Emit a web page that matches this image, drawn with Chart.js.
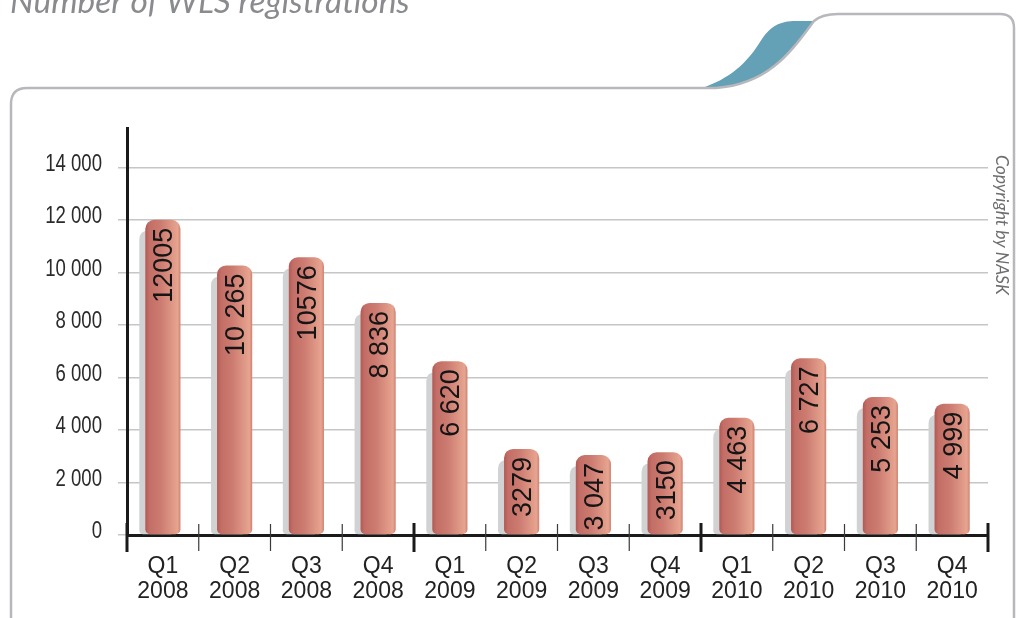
<!DOCTYPE html>
<html lang="en">
<head>
    <meta charset="UTF-8">
    <title>Number of WLS registrations</title>
    <style>
        html, body {
            margin: 0;
            padding: 0;
            background: #fff;
        }
        #wrap {
            position: relative;
            width: 1016px;
            height: 618px;
        }
    </style>
</head>
<body>
    <div id="wrap">
        <canvas id="wlsChart" width="1016" height="618"></canvas>
    </div>

    <script src="https://cdn.jsdelivr.net/npm/chart.js"></script>
    <script>
        // data
        const quarters = ['Q1', 'Q2', 'Q3', 'Q4', 'Q1', 'Q2', 'Q3', 'Q4', 'Q1', 'Q2', 'Q3', 'Q4'];
        const years = ['2008', '2008', '2008', '2008', '2009', '2009', '2009', '2009', '2010', '2010', '2010', '2010'];
        const registrations = [12005, 10265, 10576, 8836, 6620, 3279, 3047, 3150, 4463, 6727, 5253, 4999];
        const valueLabels = ['12005', '10 265', '10576', '8 836', '6 620', '3279', '3 047', '3150', '4 463', '6 727', '5 253', '4 999'];
        const yTickValues = [0, 2000, 4000, 6000, 8000, 10000, 12000, 14000];
        const yTickLabels = ['0', '2 000', '4 000', '6 000', '8 000', '10 000', '12 000', '14 000'];

        const sans = "'Liberation Sans', Arial, sans-serif";
        const barPct = 0.49;

        function roundTop(ctx, x, y, w, h, r, rb) {
            ctx.beginPath();
            ctx.moveTo(x, y + r);
            ctx.quadraticCurveTo(x, y, x + r, y);
            ctx.lineTo(x + w - r, y);
            ctx.quadraticCurveTo(x + w, y, x + w, y + r);
            ctx.lineTo(x + w, y + h - rb);
            ctx.quadraticCurveTo(x + w, y + h, x + w - rb, y + h);
            ctx.lineTo(x + rb, y + h);
            ctx.quadraticCurveTo(x, y + h, x, y + h - rb);
            ctx.closePath();
        }

        // frame, blue tab, title and copyright
        const decor = {
            id: 'decor',
            beforeDraw(chart) {
                const ctx = chart.ctx;
                ctx.save();

                // blue tab
                ctx.fillStyle = '#64a0b6';
                ctx.beginPath();
                ctx.moveTo(705, 87);
                ctx.bezierCurveTo(735, 76, 750, 58, 760, 42);
                ctx.bezierCurveTo(770, 26, 780, 21, 796, 21);
                ctx.lineTo(814, 21);
                ctx.bezierCurveTo(792, 50, 772, 80, 722, 87);
                ctx.closePath();
                ctx.fill();

                // frame outline
                ctx.strokeStyle = '#b8b8bc';
                ctx.lineWidth = 2.5;
                ctx.beginPath();
                ctx.moveTo(11, 640);
                ctx.lineTo(11, 104);
                ctx.quadraticCurveTo(11, 88, 27, 88);
                ctx.lineTo(716, 88);
                ctx.bezierCurveTo(770, 84, 792, 50, 814, 21);
                ctx.quadraticCurveTo(822, 14, 838, 14);
                ctx.lineTo(1000, 14);
                ctx.quadraticCurveTo(1014, 14, 1014, 28);
                ctx.lineTo(1014, 640);
                ctx.stroke();

                // title, cut at the top edge
                ctx.fillStyle = '#8a8b8f';
                let size = 30;
                ctx.font = 'italic ' + size + 'px Lato, "Open Sans", sans-serif';
                size = size * 400 / ctx.measureText('Number of WLS registrations').width;
                ctx.font = 'italic ' + size + 'px Lato, "Open Sans", sans-serif';
                ctx.textBaseline = 'alphabetic';
                ctx.fillText('Number of WLS registrations', 10, 13);

                // copyright, vertical
                ctx.translate(996, 155);
                ctx.rotate(Math.PI / 2);
                ctx.fillStyle = '#6d6e71';
                let cs = 16;
                ctx.font = 'italic ' + cs + 'px Lato, "Open Sans", sans-serif';
                cs = cs * 140 / ctx.measureText('Copyright by NASK').width;
                ctx.font = 'italic ' + cs + 'px Lato, "Open Sans", sans-serif';
                ctx.fillText('Copyright by NASK', 0, 0);
                ctx.restore();
            },
            beforeDatasetsDraw(chart) {
                // grey shadow left of each bar
                const ctx = chart.ctx;
                ctx.save();
                ctx.fillStyle = '#d1d2d4';
                chart.getDatasetMeta(0).data.forEach(el => {
                    const p = el.getProps(['x', 'y', 'base', 'width'], true);
                    roundTop(ctx, p.x - p.width / 2 - 6, p.y + 11, p.width, p.base - p.y - 11, 9, 4);
                    ctx.fill();
                });
                ctx.restore();
            },
            afterDatasetsDraw(chart) {
                // vertical value labels inside bars
                const ctx = chart.ctx;
                ctx.save();
                ctx.fillStyle = '#151515';
                ctx.font = '27px ' + sans;
                ctx.textAlign = 'right';
                ctx.textBaseline = 'alphabetic';
                chart.getDatasetMeta(0).data.forEach((el, i) => {
                    const p = el.getProps(['x', 'y'], true);
                    ctx.save();
                    ctx.translate(p.x + 9.5, p.y + 8);
                    ctx.rotate(-Math.PI / 2);
                    ctx.fillText(valueLabels[i], 0, 0);
                    ctx.restore();
                });
                ctx.restore();
            },
            afterDraw(chart) {
                const ctx = chart.ctx;
                const xs = chart.scales.x;
                const ys = chart.scales.y;
                const axisY = chart.chartArea.bottom;
                const n = quarters.length;
                ctx.save();

                // y tick labels in a condensed face
                ctx.fillStyle = '#2a2a2a';
                ctx.font = '23.5px ' + sans;
                ctx.textAlign = 'right';
                ctx.textBaseline = 'middle';
                yTickValues.forEach((v, i) => {
                    ctx.save();
                    ctx.translate(ys.left + ys.width - 25, ys.getPixelForValue(v) - 3);
                    ctx.scale(0.79, 1);
                    ctx.fillText(yTickLabels[i], 0, 0);
                    ctx.restore();
                });

                // category tick marks across the x axis, heavy at year breaks
                for (let i = 0; i <= n; i++) {
                    let x;
                    if (i === 0) x = xs.left;
                    else if (i === n) x = xs.right;
                    else x = (xs.getPixelForValue(i - 1) + xs.getPixelForValue(i)) / 2;
                    const major = i % 4 === 0;
                    ctx.strokeStyle = major ? '#1a1a1a' : '#3a3a3a';
                    ctx.lineWidth = major ? 3 : 1.2;
                    ctx.beginPath();
                    ctx.moveTo(x, axisY - (major ? 12 : 11));
                    ctx.lineTo(x, axisY + (major ? 17 : 16));
                    ctx.stroke();
                }
                ctx.restore();
            }
        };

        const ctx = document.getElementById('wlsChart').getContext('2d');

        new Chart(ctx, {
            type: 'bar',
            data: {
                labels: quarters,
                datasets: [{
                    data: registrations,
                    backgroundColor: function(c) {
                        const chart = c.chart;
                        const xs = chart.scales.x;
                        if (!xs || !chart.chartArea || c.dataIndex === undefined) return '#cc7b72';
                        const cx = xs.getPixelForValue(c.dataIndex);
                        const half = xs.width / quarters.length * barPct / 2;
                        const g = chart.ctx.createLinearGradient(cx - half, 0, cx + half, 0);
                        g.addColorStop(0, '#b15a53');
                        g.addColorStop(0.12, '#c36e66');
                        g.addColorStop(0.45, '#cd7c72');
                        g.addColorStop(0.8, '#e09a87');
                        g.addColorStop(0.92, '#e6a491');
                        g.addColorStop(1, '#cf8071');
                        return g;
                    },
                    borderWidth: 0,
                    borderSkipped: false,
                    borderRadius: { topLeft: 9, topRight: 9, bottomLeft: 5, bottomRight: 5 },
                    barPercentage: barPct,
                    categoryPercentage: 1
                }]
            },
            options: {
                responsive: false,
                animation: false,
                layout: {
                    padding: { top: 128, right: 28, left: 0, bottom: 0 }
                },
                plugins: {
                    legend: { display: false },
                    tooltip: { enabled: false }
                },
                scales: {
                    x: {
                        afterFit(scale) { scale.height = 83; },
                        grid: { display: false },
                        border: { display: true, color: '#1a1a1a', width: 3 },
                        ticks: {
                            autoSkip: false,
                            maxRotation: 0,
                            padding: 11,
                            color: '#222',
                            font: { family: sans, size: 23, lineHeight: 25 / 23 },
                            callback: (v, i) => [quarters[i], years[i]]
                        }
                    },
                    y: {
                        min: 0,
                        max: 15500,
                        afterFit(scale) { scale.width = 127; },
                        afterBuildTicks(scale) {
                            scale.ticks = yTickValues.map(v => ({ value: v }));
                        },
                        grid: {
                            color: '#c6c6c6',
                            lineWidth: 1.5,
                            tickLength: 9
                        },
                        border: { display: true, color: '#1a1a1a', width: 3 },
                        ticks: { display: false }
                    }
                }
            },
            plugins: [decor]
        });
    </script>
</body>
</html>
